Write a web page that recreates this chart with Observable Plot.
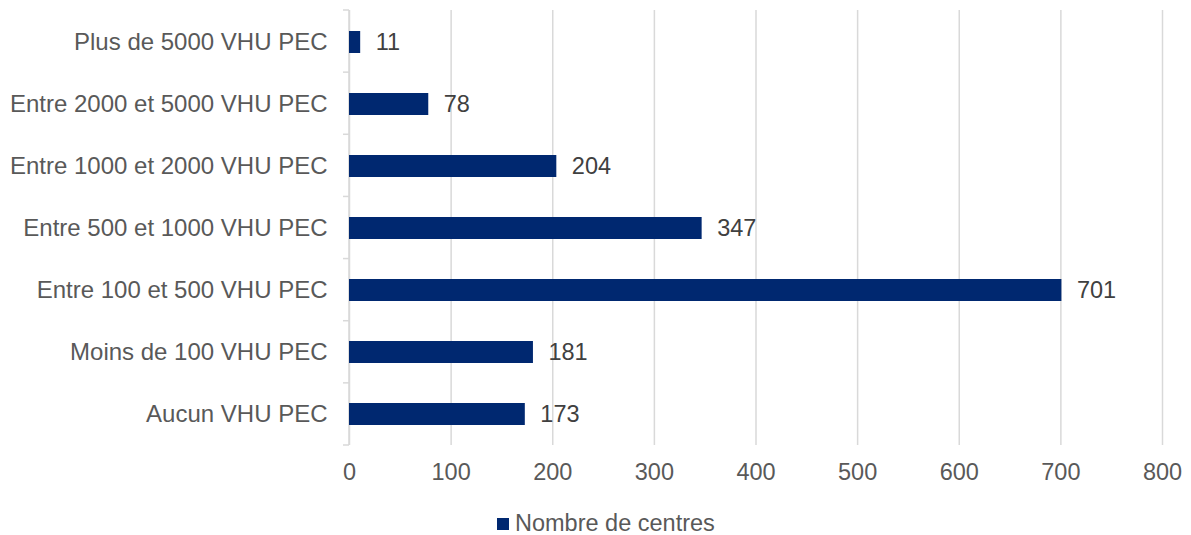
<!DOCTYPE html>
<html>
<head>
<meta charset="utf-8">
<script src="https://cdn.jsdelivr.net/npm/d3@7"></script>
<script src="https://cdn.jsdelivr.net/npm/@observablehq/plot@0.6"></script>
<style>
  body { margin: 0; background: #fff; font-family: "Liberation Sans", Arial, sans-serif; }
  #chart { position: relative; width: 1191px; height: 535px; }
  #legend { position: absolute; left: 497px; top: 510px; display: flex; align-items: center; font-size: 23.5px; line-height: 27px; color: #595959; }
  #legend .sw { width: 12px; height: 12px; background: #002870; margin-right: 6px; }
</style>
</head>
<body>
<div id="chart"></div>
<script>
const categories = [
  "Plus de 5000 VHU PEC",
  "Entre 2000 et 5000 VHU PEC",
  "Entre 1000 et 2000 VHU PEC",
  "Entre 500 et 1000 VHU PEC",
  "Entre 100 et 500 VHU PEC",
  "Moins de 100 VHU PEC",
  "Aucun VHU PEC"
];
const values = [11, 78, 204, 347, 701, 181, 173];
const xTicks = [0, 100, 200, 300, 400, 500, 600, 700, 800];
const seriesName = "Nombre de centres";

const data = categories.map((c, i) => ({category: c, value: values[i]}));

const W = 1191, H = 500;
const mTop = 10, mBottom = 55, mLeft = 349, mRight = 29;
const FS = 23.5;

const boundaryTicks = (index, scales, values, dims) => {
  const g = d3.create("svg:g");
  const n = categories.length;
  const top = dims.marginTop, bottom = dims.height - dims.marginBottom;
  const x0 = dims.marginLeft;
  for (let i = 0; i <= n; i++) {
    const y = top + (bottom - top) * i / n;
    g.append("line").attr("x1", x0 - 6).attr("x2", x0).attr("y1", y).attr("y2", y)
      .attr("stroke", "#d9d9d9").attr("stroke-width", 1.5);
  }
  g.append("line").attr("x1", x0).attr("x2", x0).attr("y1", top).attr("y2", bottom)
    .attr("stroke", "#d9d9d9").attr("stroke-width", 1.5);
  return g.node();
};

const chart = Plot.plot({
  width: W,
  height: H,
  marginTop: mTop,
  marginBottom: mBottom,
  marginLeft: mLeft,
  marginRight: mRight,
  style: { fontFamily: "'Liberation Sans', Arial, sans-serif", background: "#fff" },
  x: { domain: [0, 800], ticks: xTicks },
  y: { domain: categories, paddingInner: 0.65, paddingOuter: 0.325 },
  marks: [
    Plot.gridX(xTicks, { stroke: "#d9d9d9", strokeOpacity: 1, strokeWidth: 1.5 }),
    boundaryTicks,
    Plot.axisX({ ticks: xTicks, tickSize: 0, tickPadding: 18, fontSize: FS, fill: "#595959", label: null }),
    Plot.axisY({ tickSize: 0, tickPadding: 22, fontSize: 24, fill: "#595959", label: null }),
    Plot.barX(data, { x: "value", y: "category", fill: "#002870" }),
    Plot.text(data, { x: "value", y: "category", text: d => String(d.value), textAnchor: "start", dx: 15, fontSize: FS, fill: "#404040" })
  ]
});

const container = document.getElementById("chart");
container.appendChild(chart);
const legend = document.createElement("div");
legend.id = "legend";
legend.innerHTML = `<div class="sw"></div><span>${seriesName}</span>`;
container.appendChild(legend);
</script>
</body>
</html>
